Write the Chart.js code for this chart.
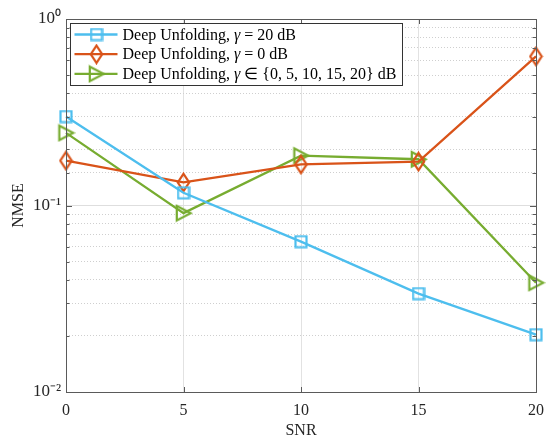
<!DOCTYPE html>
<html><head><meta charset="utf-8">
<script src="https://cdn.jsdelivr.net/npm/chart.js@4"></script>
<style>html,body{margin:0;padding:0;background:#fff;overflow:hidden}#wrap{width:553px;height:441px}</style>
</head><body><div id="wrap"><canvas id="c" width="553" height="441"></canvas></div>
<script>
// ---- data ----
const snr = [0, 5, 10, 15, 20];
const nmseGamma20 = [0.300, 0.117, 0.064, 0.0337, 0.0203];
const nmseGamma0 = [0.174, 0.133, 0.166, 0.172, 0.63];
const nmseGammaMix = [0.245, 0.091, 0.185, 0.177, 0.0385];
const seriesLabels = ['Deep Unfolding, γ = 20 dB', 'Deep Unfolding, γ = 0 dB', 'Deep Unfolding, γ ∈ {0, 5, 10, 15, 20} dB'];
const xTickValues = [0, 5, 10, 15, 20];
const yTickLabels = ['10⁻²', '10⁻¹', '10⁰'];
const xTitle = 'SNR';
const yTitle = 'NMSE';

// ---- style ----
const FONT = "'Liberation Serif', 'Times New Roman', serif";
const BLUE = '#4DBEEE', ORANGE = '#D95319', GREEN = '#77AC30';
const AXIS = '#5a5a5a';

function mk(w, h, color, draw) {
  const c = document.createElement('canvas'); c.width = w; c.height = h;
  const g = c.getContext('2d'); g.strokeStyle = color; g.lineWidth = 2.2; g.lineJoin = 'miter';
  g.beginPath(); draw(g); g.closePath(); g.stroke(); return c;
}
const mSquare = mk(14, 14, BLUE, g => g.rect(1.5, 1.5, 11, 11));
const mDiamond = mk(15, 21, ORANGE, g => { g.moveTo(7.5, 1.8); g.lineTo(13.2, 10.5); g.lineTo(7.5, 19.2); g.lineTo(1.8, 10.5); });
const mTri = mk(19, 19, GREEN, g => { g.moveTo(2.8, 2.2); g.lineTo(16.8, 9.5); g.lineTo(2.8, 16.8); });

const isDecade = v => { const l = Math.log10(v); return Math.abs(l - Math.round(l)) < 1e-6; };

function ds(label, data, color, marker) {
  return {
    label, data: snr.map((x, i) => ({ x, y: data[i] })),
    borderColor: color, backgroundColor: color, borderWidth: 2.3, tension: 0,
    pointStyle: marker, pointRadius: 5, pointHoverRadius: 5, clip: false, fill: false
  };
}

const frame = {
  id: 'frame',
  afterDatasetsDraw(chart) {
    const ctx = chart.ctx, a = chart.chartArea, xs = chart.scales.x, ys = chart.scales.y;
    ctx.save();
    ctx.strokeStyle = AXIS; ctx.lineWidth = 1;
    ctx.beginPath();
    xs.ticks.forEach(t => {
      const px = Math.round(xs.getPixelForValue(t.value)) + 0.5;
      ctx.moveTo(px, a.bottom); ctx.lineTo(px, a.bottom - 5);
      ctx.moveTo(px, a.top); ctx.lineTo(px, a.top + 5);
    });
    ys.ticks.forEach(t => {
      const py = Math.round(ys.getPixelForValue(t.value)) + 0.5;
      const L = isDecade(t.value) ? 6 : 3.5;
      ctx.moveTo(a.left, py); ctx.lineTo(a.left + L, py);
      ctx.moveTo(a.right, py); ctx.lineTo(a.right - L, py);
    });
    ctx.stroke();
    ctx.strokeRect(Math.round(a.left) + 0.5, Math.round(a.top) + 0.5, Math.round(a.right - a.left), Math.round(a.bottom - a.top));
    ctx.restore();
  }
};

const legendBox = {
  id: 'legendBox',
  afterDraw(chart) {
    const ctx = chart.ctx, a = chart.chartArea;
    const size = 16;
    const reg = size + 'px ' + FONT, ita = 'italic ' + size + 'px ' + FONT;
    const x0 = Math.round(a.left) + 4.5, y0 = Math.round(a.top) + 4.5;
    const textX = x0 + 52;
    ctx.save();
    const widths = chart.data.datasets.map(d => {
      const [p1, p2] = d.label.split('γ');
      ctx.font = reg; let w = ctx.measureText(p1).width + ctx.measureText(p2).width;
      ctx.font = ita; w += ctx.measureText('γ').width; return w;
    });
    const boxW = Math.round(textX + Math.max(...widths) + 6 - x0);
    ctx.fillStyle = '#fff'; ctx.strokeStyle = '#333'; ctx.lineWidth = 1;
    ctx.fillRect(x0, y0, boxW, 62); ctx.strokeRect(x0, y0, boxW, 62);
    chart.data.datasets.forEach((d, i) => {
      const cy = y0 + 11 + i * 19.7;
      ctx.strokeStyle = d.borderColor; ctx.lineWidth = 2.3;
      ctx.beginPath(); ctx.moveTo(x0 + 4, cy); ctx.lineTo(x0 + 47, cy); ctx.stroke();
      const m = d.pointStyle; ctx.drawImage(m, x0 + 26 - m.width / 2, cy - m.height / 2);
      const [p1, p2] = d.label.split('γ');
      ctx.fillStyle = '#000'; ctx.textBaseline = 'middle'; ctx.textAlign = 'left';
      let x = textX;
      ctx.font = reg; ctx.fillText(p1, x, cy + 1); x += ctx.measureText(p1).width;
      ctx.font = ita; ctx.fillText('γ', x, cy + 1); x += ctx.measureText('γ').width;
      ctx.font = reg; ctx.fillText(p2, x, cy + 1);
    });
    ctx.restore();
  }
};

new Chart(document.getElementById('c'), {
  type: 'line',
  data: {
    datasets: [
      ds(seriesLabels[0], nmseGamma20, BLUE, mSquare),
      ds(seriesLabels[1], nmseGamma0, ORANGE, mDiamond),
      ds(seriesLabels[2], nmseGammaMix, GREEN, mTri)
    ]
  },
  options: {
    responsive: false, animation: false,
    layout: { padding: { left: 0, right: 14, top: 19, bottom: 0 } },
    plugins: { legend: { display: false }, tooltip: { enabled: false } },
    scales: {
      x: {
        type: 'linear', min: 0, max: 20,
        afterBuildTicks: s => { s.ticks = xTickValues.map(v => ({ value: v })); },
        grid: { color: '#e2e2e2', lineWidth: 1, drawTicks: false },
        border: { display: false },
        ticks: { font: { family: FONT, size: 16 }, color: '#262626', padding: 9, maxRotation: 0, autoSkip: false },
        title: { display: true, text: xTitle, font: { family: FONT, size: 16 }, color: '#262626', padding: { top: 0, bottom: 1 } },
        afterFit: s => { s.height = 49; }
      },
      y: {
        type: 'logarithmic', min: 0.01, max: 1,
        grid: {
          color: c => (c.tick && isDecade(c.tick.value)) ? '#dedede' : '#cfcfcf',
          lineWidth: 1, drawTicks: false
        },
        border: { display: false, dash: c => (c.tick && !isDecade(c.tick.value)) ? [1, 2] : [] },
        ticks: {
          font: { family: FONT, size: 17 }, color: '#262626', padding: 5, autoSkip: false,
          callback: v => isDecade(v) ? yTickLabels[Math.round(Math.log10(v)) + 2] : ''
        },
        title: { display: true, text: yTitle, font: { family: FONT, size: 16 }, color: '#262626', padding: { top: 9, bottom: 0 } },
        afterFit: s => { s.width = 66; }
      }
    }
  },
  plugins: [frame, legendBox]
});
</script></body></html>
